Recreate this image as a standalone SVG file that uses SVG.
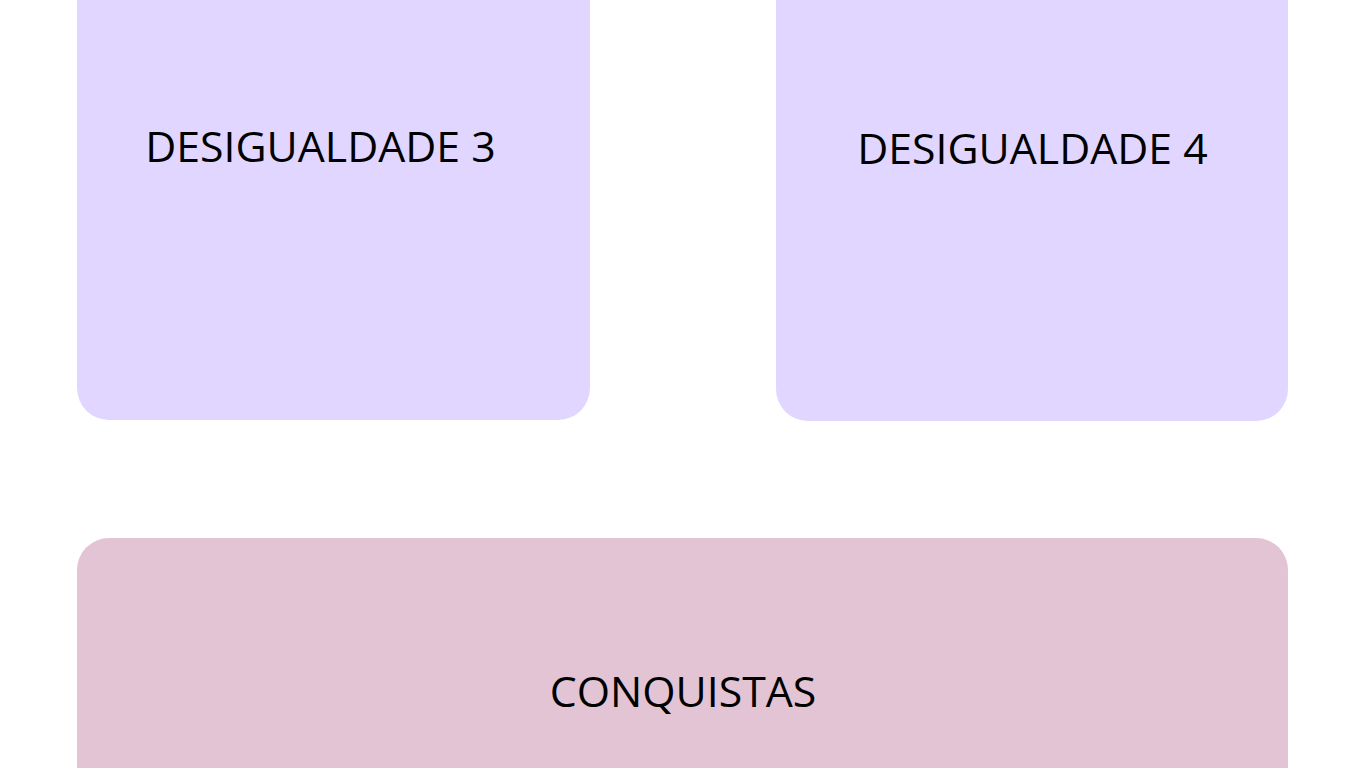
<svg xmlns="http://www.w3.org/2000/svg" width="1366" height="768" viewBox="0 0 1366 768">
<style>
.lav{fill:#E0D6FF}
.pink{fill:#E3C4D4}
.t{font-family:"Open Sans",sans-serif;font-size:42.8px;fill:#000;text-anchor:middle}
</style>
<rect width="1366" height="768" fill="#fff"/>
<g id="desigualdade3">
<rect class="lav" x="77" y="-60" width="513" height="480" rx="32"/>
<text class="t" x="320.5" y="162">DESIGUALDADE 3</text>
</g>
<g id="desigualdade4">
<rect class="lav" x="776" y="-60" width="512" height="481" rx="32"/>
<text class="t" x="1032.5" y="164">DESIGUALDADE 4</text>
</g>
<g id="conquistas">
<rect class="pink" x="77" y="538" width="1211" height="300" rx="32"/>
<text class="t" x="683" y="707">CONQUISTAS</text>
</g>
<g id="connectors"/>
</svg>
